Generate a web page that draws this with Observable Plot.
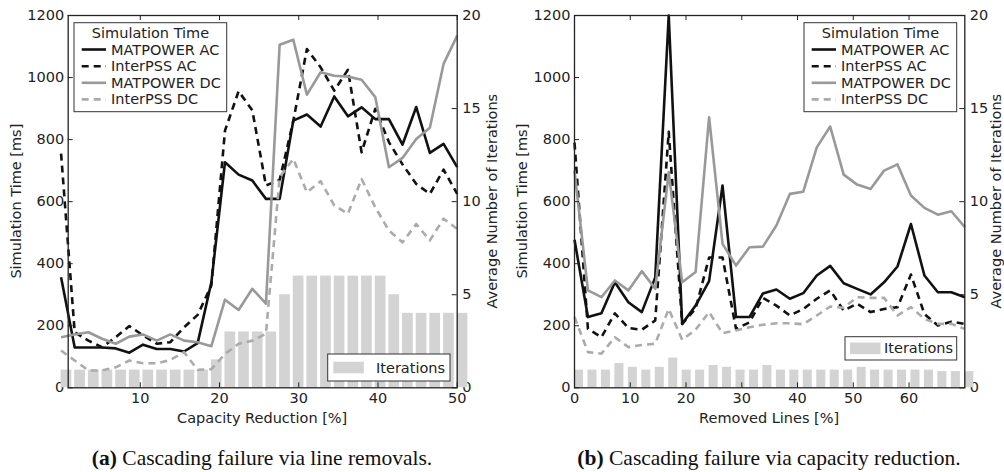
<!DOCTYPE html>
<html><head><meta charset="utf-8">
<script src="https://cdn.jsdelivr.net/npm/d3@7"></script>
<script src="https://cdn.jsdelivr.net/npm/@observablehq/plot@0.6"></script>
<style>
body{margin:0;background:#fff;width:1004px;height:472px;position:relative;overflow:hidden;font-family:"DejaVu Sans",sans-serif;}
.panel{position:absolute;top:0;}
.cap{position:absolute;top:448px;font-family:"Liberation Serif",serif;font-size:21.5px;line-height:1;white-space:nowrap;transform:translateX(-50%);color:#111;}
</style></head><body>
<div id="pa" class="panel" style="left:0"></div>
<div id="pb" class="panel" style="left:502px"></div>
<div class="cap" style="left:262px"><b>(a)</b> Cascading failure via line removals.</div>
<div class="cap" style="left:769px"><b>(b)</b> Cascading failure via capacity reduction.</div>
<script>
// ---------- data: panel (a) ----------
const leftX = [0,1.72,3.45,5.17,6.90,8.62,10.34,12.07,13.79,15.52,17.24,18.97,20.69,22.41,24.14,25.86,27.59,29.31,31.03,32.76,34.48,36.21,37.93,39.66,41.38,43.10,44.83,46.55,48.28,50];
const leftMatAC  = [356,130,130,130,127,113,139,125,125,117,144,340,727,687,668,609,609,861,881,842,939,875,904,866,866,784,905,757,786,711];
const leftIpssAC = [755,179,152,131,163,199,169,142,147,195,235,330,829,956,894,652,670,860,1092,1033,958,1025,759,899,792,720,657,625,703,625];
const leftMatDC  = [163,172,179,158,142,165,172,152,172,152,147,134,284,251,319,271,1106,1122,945,1017,1006,1003,993,937,711,741,802,838,1044,1135];
const leftIpssDC = [120,88,56,56,66,88,79,79,90,115,58,60,109,142,152,174,679,738,630,666,588,561,673,582,507,469,528,475,545,512];
const leftIter   = [0.95,0.95,0.95,0.95,0.95,0.95,0.95,0.95,0.95,0.95,0.95,1.5,3,3,3,3,5,6,6,6,6,6,6,6,5,4,4,4,4,4];
const leftXTicks = [10,20,30,40,50];

// ---------- data: panel (b) ----------
const rightX = [0,2.41,4.83,7.24,9.66,12.07,14.48,16.90,19.31,21.72,24.14,26.55,28.97,31.38,33.79,36.21,38.62,41.03,43.45,45.86,48.28,50.69,53.10,55.52,57.93,60.34,62.76,65.17,67.59,70];
const rightMatAC  = [477,228,240,340,276,244,356,1200,206,265,344,652,228,228,304,317,287,305,362,393,337,319,301,340,391,528,362,308,308,292];
const rightIpssAC = [790,190,163,240,193,187,217,825,206,255,420,420,190,211,290,265,233,254,287,314,249,271,244,254,260,365,238,201,213,206];
const rightMatDC  = [700,314,292,346,314,376,319,695,340,373,872,464,394,453,455,523,625,632,775,842,687,655,641,700,720,620,580,558,569,518];
const rightIpssDC = [228,115,110,163,131,138,142,254,155,187,244,176,185,195,203,208,208,205,233,262,258,292,290,290,233,260,222,206,206,190];
const rightIter   = [0.95,0.95,0.95,1.3,1.1,0.95,1.1,1.6,0.95,0.95,1.2,1.1,0.95,0.95,1.2,0.95,0.95,0.95,0.95,0.95,0.95,1.1,0.95,0.95,0.95,0.95,0.95,0.87,0.87,0.87];
const rightXTicks = [0,10,20,30,40,50,60];

// ---------- shared ----------
const timeTicks = [0,200,400,600,800,1000,1200];
const iterTicks = [0,5,10,15,20];
const seriesNames = ["MATPOWER AC","InterPSS AC","MATPOWER DC","InterPSS DC"];
const seriesStroke = ["#111111","#111111","#999999","#ababab"];
const seriesDash = [null,"7,5",null,"7,5"];
const TMAX = 1200, IMAX = 20, RATIO = TMAX / IMAX;

function makePanel(cfg) {
  const W = 502, H = 430, mt = 15, mb = 42.7;
  const fw = W - cfg.ml - cfg.mr, fh = H - mt - mb;
  const bars = cfg.x.map((x, i) => ({x, iter: cfg.iter[i]}));
  const lineData = [cfg.matAC, cfg.ipssAC, cfg.matDC, cfg.ipssDC].map(arr => arr.map((v, i) => ({x: cfg.x[i], v})));
  const marks = [
    Plot.axisY(timeTicks, {anchor: "left", tickSize: 0, tickPadding: 4, label: null, fontSize: 14.5, tickFormat: d => String(d)}),
    Plot.axisY(iterTicks.map(d => d * RATIO), {anchor: "right", tickSize: 0, tickPadding: 5, label: null, fontSize: 14.5, tickFormat: d => String(Math.round(d / RATIO))}),
    Plot.axisX(cfg.xTicks, {anchor: "bottom", tickSize: 0, tickPadding: 5, label: null, fontSize: 14.5, tickFormat: d => String(d)}),
    Plot.rect(bars, {x1: "x", x2: d => d.x + cfg.bw, y1: () => 0, y2: d => d.iter * RATIO, fill: "#d3d3d3"}),
  ];
  lineData.forEach((ld, k) => {
    marks.push(Plot.line(ld, {x: "x", y: "v", stroke: seriesStroke[k], strokeWidth: 2.6,
      strokeDasharray: seriesDash[k], strokeLinecap: "butt", strokeLinejoin: "round"}));
  });
  marks.push(
    Plot.frame({stroke: "#222", strokeWidth: 1.3}),
    Plot.ruleY(timeTicks, {y: d => d, stroke: "#222", insetRight: fw - 5}),
    Plot.ruleY(iterTicks.map(d => d * RATIO), {y: d => d, stroke: "#222", insetLeft: fw - 5}),
    Plot.ruleX(cfg.xTicks, {x: d => d, stroke: "#222", insetTop: fh - 5}),
    Plot.ruleX(cfg.xTicks, {x: d => d, stroke: "#222", insetBottom: fh - 5})
  );
  const svg = Plot.plot({
    width: W, height: H, marginLeft: cfg.ml, marginRight: cfg.mr, marginTop: mt, marginBottom: mb,
    x: {domain: cfg.xDomain}, y: {domain: [0, TMAX]},
    style: {fontFamily: "DejaVu Sans", fontSize: "14.5px", color: "#222", background: "transparent", overflow: "visible"},
    marks
  });
  const s = d3.select(svg);
  const fs = 14.5;
  const tx = (x, y, t, anchor, rot) => {
    const e = s.append("text").attr("font-family", "DejaVu Sans").attr("font-size", fs).attr("fill", "#222")
      .attr("text-anchor", anchor).attr("dy", "0.35em").text(t);
    if (rot) e.attr("transform", `translate(${x},${y}) rotate(${rot})`); else e.attr("x", x).attr("y", y);
    return e;
  };
  tx(cfg.ml + fw / 2, 417.5, cfg.xLabel, "middle");
  tx(cfg.yLabelX, mt + fh / 2, "Simulation Time [ms]", "middle", -90);
  tx(cfg.y2LabelX, mt + fh / 2, "Average Number of Iterations", "middle", -90);

  // main legend
  const L = cfg.leg;
  s.append("rect").attr("x", L.x).attr("y", 22.7).attr("width", 152.7).attr("height", 89)
    .attr("fill", "white").attr("stroke", "#333").attr("stroke-width", 1);
  tx(L.x + 76.5, 33.3, "Simulation Time", "middle");
  const ys = [49.5, 66.2, 82.8, 99.4];
  seriesNames.forEach((n, k) => {
    s.append("line").attr("x1", L.x + 7.7).attr("x2", L.x + 32).attr("y1", ys[k]).attr("y2", ys[k])
      .attr("stroke", seriesStroke[k]).attr("stroke-width", 2.6).attr("stroke-dasharray", seriesDash[k] || null);
    tx(L.x + 37, ys[k], n, "start");
  });
  // iterations legend
  const I = cfg.iterLeg;
  s.append("rect").attr("x", I.x).attr("y", I.y).attr("width", I.w).attr("height", I.h)
    .attr("fill", "white").attr("stroke", "#333").attr("stroke-width", 1);
  s.append("rect").attr("x", I.px).attr("y", I.y + I.h / 2 - 5.8).attr("width", 30.5).attr("height", 11.6).attr("fill", "#d3d3d3");
  tx(I.tx, I.y + I.h / 2, "Iterations", "start");
  return svg;
}

document.getElementById("pa").appendChild(makePanel({
  ml: 67.7, mr: 45.3, xDomain: [0.9, 50], x: leftX, iter: leftIter, bw: 1.35,
  matAC: leftMatAC, ipssAC: leftIpssAC, matDC: leftMatDC, ipssDC: leftIpssDC,
  xTicks: leftXTicks, xLabel: "Capacity Reduction [%]", yLabelX: 16, y2LabelX: 492,
  leg: {x: 74}, iterLeg: {x: 327.7, y: 354, w: 122.3, h: 27, px: 333.3, tx: 376}
}));
document.getElementById("pb").appendChild(makePanel({
  ml: 72, mr: 39.7, xDomain: [0, 70], x: rightX, iter: rightIter, bw: 1.62,
  matAC: rightMatAC, ipssAC: rightIpssAC, matDC: rightMatDC, ipssDC: rightIpssDC,
  xTicks: rightXTicks, xLabel: "Removed Lines [%]", yLabelX: 20, y2LabelX: 494,
  leg: {x: 302}, iterLeg: {x: 343, y: 336.7, w: 111.7, h: 23.3, px: 348, tx: 382}
}));
</script>
</body></html>
